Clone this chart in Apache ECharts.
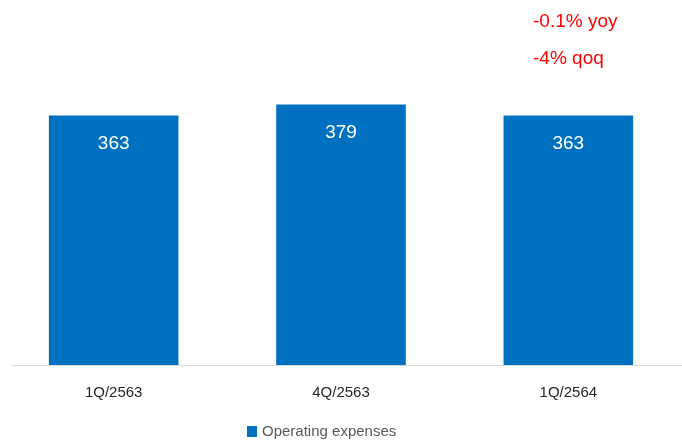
<!DOCTYPE html>
<html>
<head>
<meta charset="utf-8">
<script src="https://cdn.jsdelivr.net/npm/echarts@6/dist/echarts.min.js"></script>
<style>
  html, body { margin: 0; padding: 0; background: #fff; }
  #chart { width: 682px; height: 442px; }
</style>
</head>
<body>
<div id="chart"></div>
<script>
const categories = ['1Q/2563', '4Q/2563', '1Q/2564']
const opex = [363, 379, 363]
const seriesName = 'Operating expenses'
const notes = ['-0.1% yoy', '-4% qoq']

const font = 'Liberation Sans, Arial, sans-serif'
const gridBottom = 77
const chart = echarts.init(document.getElementById('chart'))

chart.setOption({
  animation: false,
  textStyle: { fontFamily: font },
  grid: { left: -3, right: -4, top: 90, bottom: gridBottom },
  legend: {
    top: 419,
    left: 242,
    itemWidth: 10,
    itemHeight: 11,
    itemGap: 6,
    icon: 'rect',
    textStyle: { color: '#595959', fontSize: 15 },
    data: [seriesName]
  },
  xAxis: {
    type: 'category',
    data: categories,
    axisLine: { show: false },
    axisTick: { show: false },
    axisLabel: { color: '#262626', fontSize: 15, margin: 20 }
  },
  yAxis: {
    type: 'value',
    min: 0,
    max: 400,
    show: false,
    splitLine: { show: false }
  },
  series: [{
    name: seriesName,
    type: 'bar',
    data: opex,
    barWidth: '57%',
    itemStyle: { color: '#0070C0' },
    label: {
      show: true,
      position: 'insideTop',
      distance: 19,
      color: '#fff',
      fontSize: 19
    }
  }],
  graphic: [
    // baseline, starts a little in from the left edge like the original
    {
      type: 'line',
      z: 1,
      shape: { x1: 12, y1: 442 - gridBottom + 0.5, x2: 682, y2: 442 - gridBottom + 0.5 },
      style: { stroke: '#d9d9d9', lineWidth: 1 }
    },
    ...notes.map((t, i) => ({
      type: 'text',
      left: 533,
      top: 12 + i * 37,
      style: { text: t, fill: '#ff0000', fontSize: 19, fontFamily: font }
    }))
  ]
})
</script>
</body>
</html>
